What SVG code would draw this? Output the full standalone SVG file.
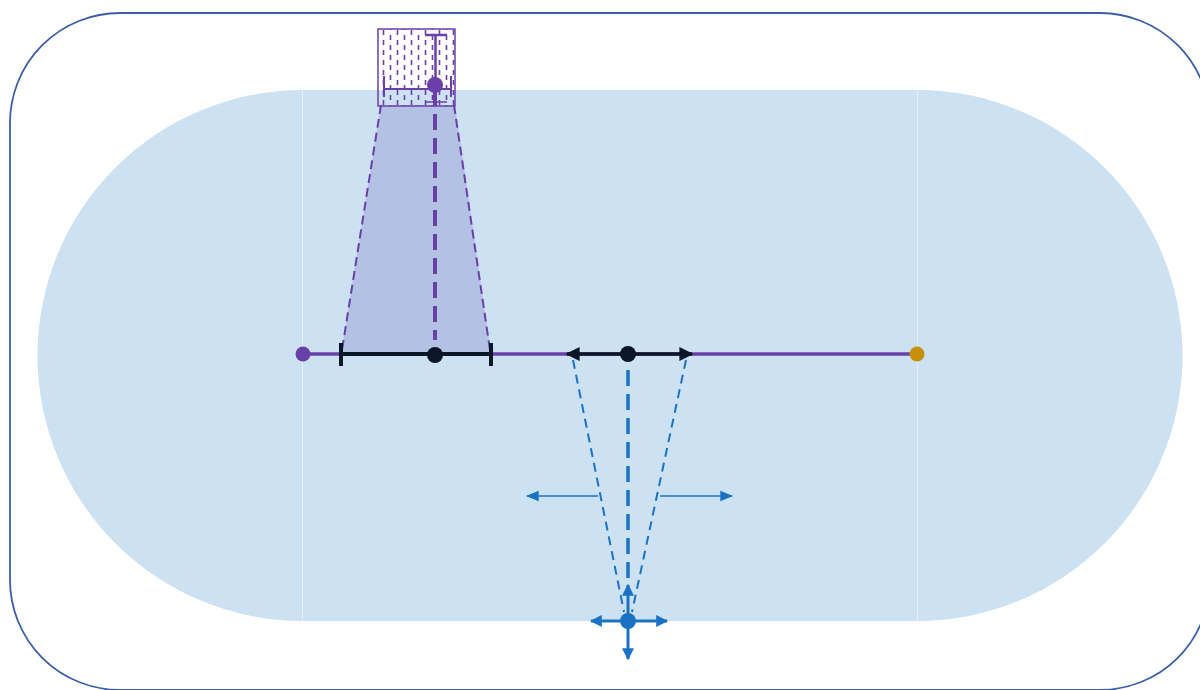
<svg xmlns="http://www.w3.org/2000/svg" width="1200" height="690" viewBox="0 0 1200 690">
<style>
.pur{stroke:#6b3fa8;fill:none}
.blk{stroke:#0b1626;fill:none}
.blu{stroke:#1a72c4;fill:none}
</style>
<defs>
<pattern id="hatch" width="14" height="10" patternUnits="userSpaceOnUse" x="380" y="30">
<line x1="3.5" y1="0" x2="3.5" y2="5" stroke="#6b3fa8" stroke-width="1.6"/>
<line x1="10.5" y1="5" x2="10.5" y2="10" stroke="#6b3fa8" stroke-width="1.6"/>
</pattern>
<marker id="ab" viewBox="0 0 10 10" refX="9" refY="5" markerWidth="4" markerHeight="4" orient="auto-start-reverse" markerUnits="strokeWidth"><path d="M0,0 L10,5 L0,10 z" fill="#0b1626"/></marker>
<marker id="abl" viewBox="0 0 10 10" refX="9" refY="5" markerWidth="10" markerHeight="10" orient="auto-start-reverse" markerUnits="strokeWidth"><path d="M0,1 L10,5 L0,9 z" fill="#1a72c4"/></marker>
<marker id="abl2" viewBox="0 0 10 10" refX="9" refY="5" markerWidth="4" markerHeight="4" orient="auto-start-reverse" markerUnits="strokeWidth"><path d="M0,0 L10,5 L0,10 z" fill="#1a72c4"/></marker>
</defs>
<rect x="10" y="13" width="1200" height="677" rx="110" ry="110" fill="#ffffff" stroke="#3b5ea8" stroke-width="1.8"/>
<g id="field">
<path d="M303,90 A265,265 0 0 0 303,621 Z" fill="#cce1f2"/>
<rect x="303" y="90" width="614" height="531" fill="#cce1f2"/>
<path d="M917,90 A265,265 0 0 1 917,621 Z" fill="#cce1f2"/>
<line x1="302.5" y1="90" x2="302.5" y2="621" stroke="#e6f0f9" stroke-width="1"/>
<line x1="917.5" y1="90" x2="917.5" y2="621" stroke="#e6f0f9" stroke-width="1"/>
</g>
<g id="cone">
<polygon points="381,105 455,105 491,354 341,354" fill="#b3c1e4"/>
<line class="pur" x1="381" y1="105" x2="342" y2="350" stroke-width="2" stroke-dasharray="9,5"/>
<line class="pur" x1="454" y1="105" x2="490" y2="350" stroke-width="2" stroke-dasharray="9,5"/>
<line class="pur" x1="435" y1="90" x2="435" y2="340" stroke-width="4" stroke-dasharray="16,8"/>
</g>
<g id="track">
<line class="pur" x1="303" y1="354" x2="917" y2="354" stroke-width="3.5"/>
<circle cx="303" cy="354" r="7.5" fill="#6b3fa8"/>
<circle cx="917" cy="354" r="7.5" fill="#c8900a"/>
</g>
<g id="segment">
<line class="blk" x1="341" y1="354" x2="491" y2="354" stroke-width="4"/>
<line class="blk" x1="341" y1="343" x2="341" y2="366" stroke-width="4"/>
<line class="blk" x1="491" y1="343" x2="491" y2="366" stroke-width="4"/>
<circle cx="435" cy="355" r="8" fill="#0b1626"/>
</g>
<g id="doublearrow">
<line class="blk" x1="567" y1="354" x2="692" y2="354" stroke-width="3.5" marker-start="url(#ab)" marker-end="url(#ab)"/>
<circle cx="628" cy="354" r="8" fill="#0b1626"/>
</g>
<g id="box">
<rect x="378" y="29" width="77" height="77" fill="url(#hatch)" stroke="#6b3fa8" stroke-width="1.5"/>
<line class="pur" x1="425" y1="35" x2="447" y2="35" stroke-width="2.5"/>
<line class="pur" x1="435.5" y1="35" x2="435.5" y2="106" stroke-width="2.5"/>
<line class="pur" x1="425" y1="102" x2="447" y2="102" stroke-width="1.5"/>
<line class="pur" x1="384" y1="89" x2="451" y2="89" stroke-width="2"/>
<line class="pur" x1="384" y1="76" x2="384" y2="97" stroke-width="2"/>
<line class="pur" x1="451" y1="76" x2="451" y2="97" stroke-width="2"/>
<circle cx="435" cy="85" r="8" fill="#6b3fa8"/>
</g>
<g id="connectors">
<line class="blu" x1="573" y1="360" x2="624" y2="612" stroke-width="2" stroke-dasharray="9,6"/>
<line class="blu" x1="686" y1="360" x2="632" y2="612" stroke-width="2" stroke-dasharray="9,6"/>
<line class="blu" x1="628" y1="370" x2="628" y2="585" stroke-width="3.5" stroke-dasharray="16,8"/>
<line class="blu" x1="598" y1="496" x2="527" y2="496" stroke-width="1.3" marker-end="url(#abl)"/>
<line class="blu" x1="660" y1="496" x2="732" y2="496" stroke-width="1.3" marker-end="url(#abl)"/>
</g>
<g id="origin">
<line class="blu" x1="628" y1="621" x2="628" y2="585" stroke-width="3" marker-end="url(#abl2)"/>
<line class="blu" x1="628" y1="621" x2="628" y2="659" stroke-width="3" marker-end="url(#abl2)"/>
<line class="blu" x1="628" y1="621" x2="591" y2="621" stroke-width="3" marker-end="url(#abl2)"/>
<line class="blu" x1="628" y1="621" x2="667" y2="621" stroke-width="3" marker-end="url(#abl2)"/>
<circle cx="628" cy="621" r="8" fill="#1a72c4"/>
</g>
</svg>
